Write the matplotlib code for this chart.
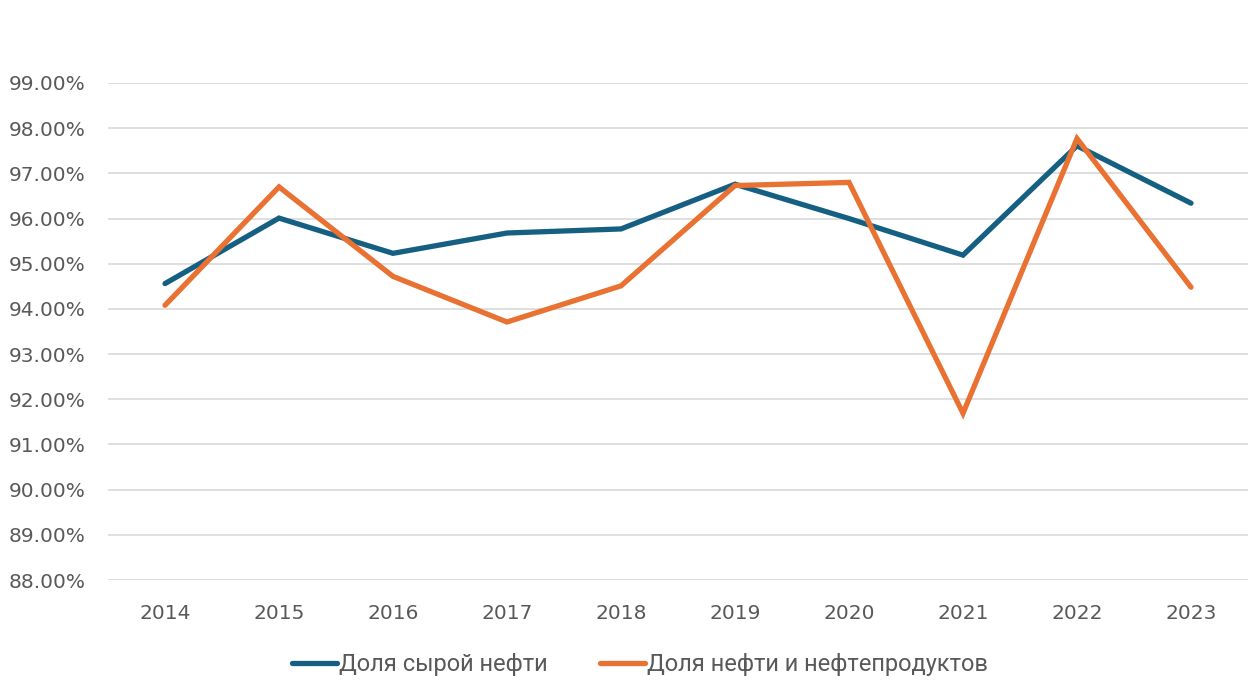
import numpy as np
import matplotlib.pyplot as plt
from matplotlib.ticker import PercentFormatter

years = ['2014', '2015', '2016', '2017', '2018', '2019', '2020', '2021', '2022', '2023']
crude_share = [94.56, 96.01, 95.23, 95.68, 95.77, 96.76, 96.00, 95.19, 97.61, 96.34]
oil_products_share = [94.08, 96.70, 94.72, 93.71, 94.51, 96.73, 96.80, 91.69, 97.77, 94.48]
yticks = np.arange(88, 100, 1)

plt.rcParams['font.family'] = ['DejaVu Sans']
gray = '#595959'

fig = plt.figure(figsize=(12.48, 6.86), dpi=100)
ax = fig.add_axes([108/1248, 1-580/686, 1-108/1248, (580-83)/686])

x = np.arange(len(years))
ax.plot(x, crude_share, color='#156082', lw=3.8, solid_capstyle='round',
        solid_joinstyle='miter', label='Доля сырой нефти', zorder=3)
ax.plot(x, oil_products_share, color='#E97132', lw=3.8, solid_capstyle='round',
        solid_joinstyle='miter', label='Доля нефти и нефтепродуктов', zorder=3)

ax.set_xlim(-0.5, len(years) - 0.5)
ax.set_ylim(88, 99)
ax.set_yticks(yticks)
ax.yaxis.set_major_formatter(PercentFormatter(decimals=2))
ax.set_xticks(x)
ax.set_xticklabels(years)
ax.grid(axis='y', color='#d9d9d9', lw=1.2)
ax.set_axisbelow(True)
for s in ax.spines.values():
    s.set_visible(False)
ax.tick_params(length=0, labelsize=14.5, colors=gray)
ax.tick_params(axis='y', pad=16)
ax.tick_params(axis='x', pad=17)

leg = fig.legend(loc='center', bbox_to_anchor=(640/1248, 1-665/686), ncol=2,
                 frameon=False, handlelength=1.9, handletextpad=0.1,
                 columnspacing=2.2,
                 prop={'family': ['Roboto', 'DejaVu Sans'], 'size': 17})
for t in leg.get_texts():
    t.set_color(gray)

plt.savefig('out.png', dpi=100)
